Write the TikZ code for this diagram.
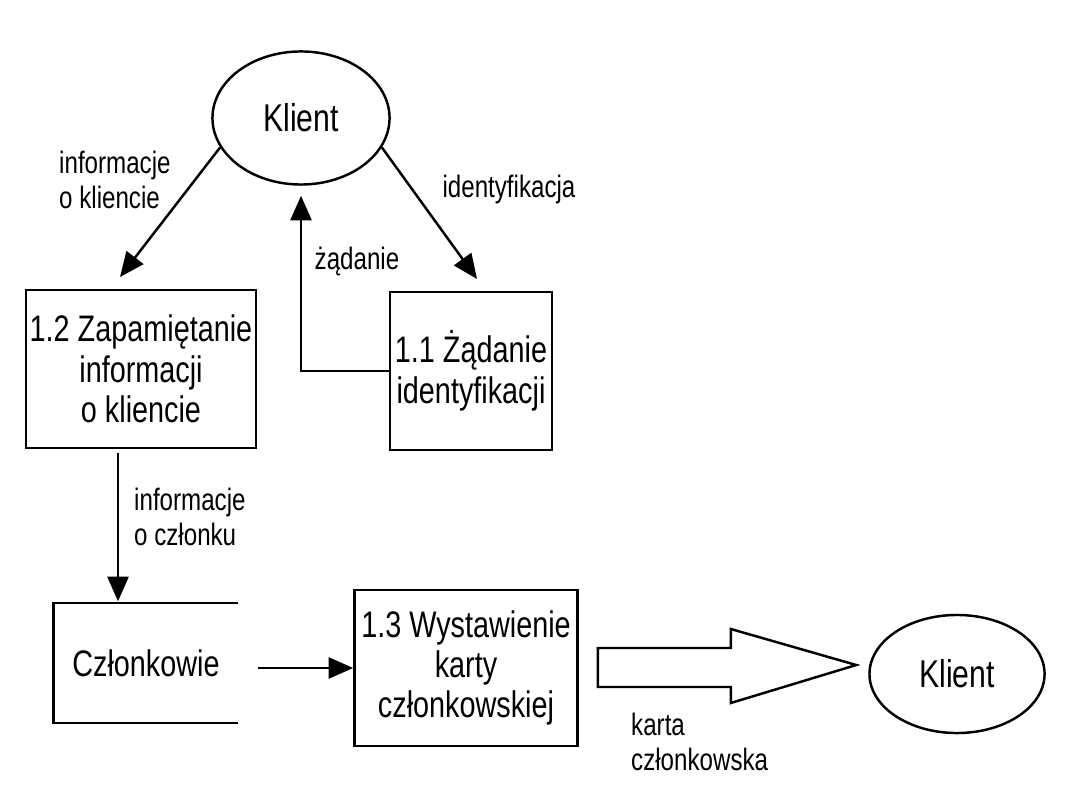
\documentclass[tikz,border=0pt]{standalone}
\usepackage{fontspec}
\setmainfont[FakeStretch=0.78]{Liberation Sans}
\usetikzlibrary{arrows.meta,calc,shapes.geometric}

\begin{document}
\begin{tikzpicture}[x=0.01cm,y=-0.01cm,line width=0.7pt,
    proc/.style={draw,rectangle,align=center,inner sep=1pt,
      font=\fontsize{10.5}{11.5}\selectfont},
    ent/.style={draw,ellipse,font=\fontsize{11}{12}\selectfont},
    flow/.style={-{Triangle[length=7pt,width=6pt]}},
    lbl/.style={align=left,inner sep=0pt,font=\fontsize{8.8}{9.8}\selectfont}]
    \useasboundingbox (0,0) rectangle (1080,810);
    % entities and processes
    \node[ent,minimum width=1.77cm,minimum height=1.33cm] (klient1) at (301,118) {Klient};
    \node[proc,minimum width=2.27cm,minimum height=1.58cm] (p12) at (141,369) {1.2 Zapamiętanie\\informacji\\o kliencie};
    \node[proc,minimum width=1.62cm,minimum height=1.58cm] (p11) at (471,371) {1.1 Żądanie\\identyfikacji};
    \node[minimum width=1.82cm,minimum height=1.17cm,font=\fontsize{10.5}{11.5}\selectfont] (store) at (146,663) {Członkowie};
    \draw (store.north east) -- (store.north west) -- (store.south west) -- (store.south east);
    \node[proc,minimum width=2.23cm,minimum height=1.56cm] (p13) at (466,668) {1.3 Wystawienie\\karty\\członkowskiej};
    \node[ent,minimum width=1.75cm,minimum height=1.18cm] (klient2) at (957,674) {Klient};
    % flows
    \coordinate (t12) at (120,277);
    \coordinate (t11) at (477,279);
    \draw[flow] (klient1.200) -- (t12);
    \draw[flow] (klient1.340) -- (t11);
    \draw[flow,shorten >=0.1cm] (p11.west) -| (klient1.south);
    \draw[flow] ($(p12.south)+(-23,4)$) -- ($(store.north)+(-28,-2)$);
    \draw[flow] ($(store.east)+(20,5)$) -- (p13.west);
    % big arrow
    \draw ($(p13.east)+(19,-20)$) -- ++(133,0) -- ++(0,-19)
      -- ($(klient2.west)+(-12,-9)$) -- ($(p13.east)+(152,35)$)
      -- ++(0,-16) -- ++(-133,0) -- cycle;
    % labels
    \node[lbl,anchor=west] (l1) at (58,180) {informacje\\o kliencie};
    \node[lbl] (l2) at (509,190) {identyfikacja};
    \node[lbl] (l3) at (357,262) {żądanie};
    \node[lbl,anchor=west] (l4) at (133,517) {informacje\\o członku};
    \node[lbl,anchor=west] (l5) at (630,742) {karta\\członkowska};
\end{tikzpicture}
\end{document}
